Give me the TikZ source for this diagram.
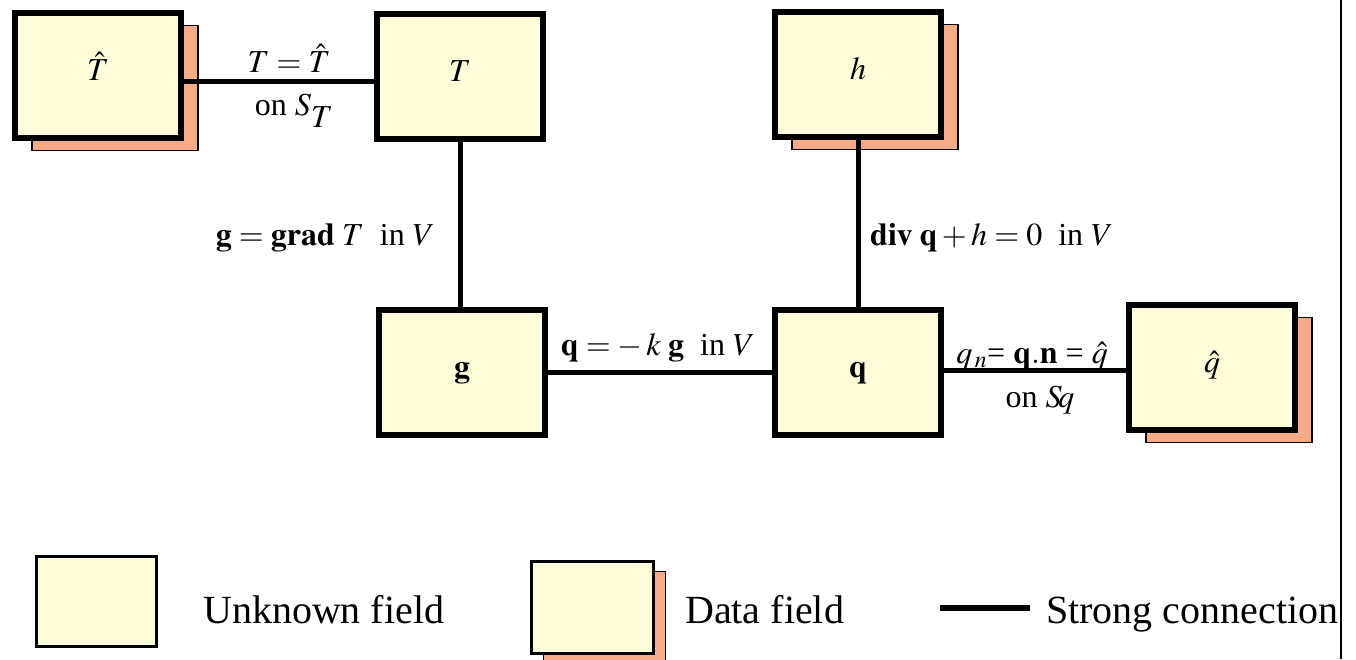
\documentclass[tikz,border=0pt]{standalone}
\usepackage{mathptmx}
\usepackage{fontspec}
\setmainfont{Liberation Serif}
\usetikzlibrary{shadows}

\definecolor{fieldfill}{RGB}{255,252,218}
\definecolor{datashade}{RGB}{246,170,134}

\tikzset{
  field/.style={draw=black, line width=6pt, fill=fieldfill, minimum width=166pt,
    minimum height=125pt, inner sep=0pt, text height=22pt, text depth=12pt,
    font=\fontsize{32}{38}\selectfont},
  shade/.style={general shadow={fill=datashade, draw=black, line width=1.5pt, #1}},
  datafield/.style={field, shade={shadow xshift=17pt, shadow yshift=-13pt}},
  link/.style={line width=5pt},
  lbl/.style={inner sep=0pt, anchor=base, font=\fontsize{32}{38}\selectfont},
  legendtext/.style={inner sep=0pt, anchor=base west, font=\fontsize{40}{48}\selectfont}
}

\begin{document}
\begin{tikzpicture}[x=1pt, y=-1pt]
  \useasboundingbox (0,0) rectangle (1356,659);

  % fields
  \node[datafield] (That) at (98,75) {$\hat{T}$};
  \node[field] (T) at (460,76) {$T$};
  \node[datafield] (h) at (858,74) {$h$};
  \node[field] (g) at (462,372) {$\mathbf{g}$};
  \node[field] (q) at (858,372) {$\mathbf{q}$};
  \node[datafield] (qhat) at (1212,367) {$\hat{q}$};

  % strong connections
  \draw[link] ([yshift=-6pt]That.east) -- ([yshift=-6pt]That.east -| T.west);
  \draw[link] (T.south) -- (T.south |- g.north);
  \draw[link] (h.south) -- (h.south |- q.north);
  \draw[link] (g.east) -- (g.east -| q.west);
  \draw[link] ([yshift=2pt]q.east) -- ([yshift=2pt]q.east -| qhat.west);

  % equations
  \node[lbl] (bcT) at (289,72) {$T = \hat{T}$};
  \node[lbl] (onST) at (294,115) {on $S$\raisebox{-0.4em}{$T$}};
  \node[lbl, anchor=base east] (gradlaw) at (435,245) {$\mathbf{g} = \mathbf{grad}\;T$\ \ in $V$};
  \node[lbl] (fourier) at (658,355) {$\mathbf{q} = -\,k\;\mathbf{g}$\ \ in $V$};
  \node[lbl, anchor=base west] (balance) at (870,245) {$\mathbf{div}\;\mathbf{q} + h = 0$\ \ in $V$};
  \node[lbl] (bcq) at (1032,363) {$q_{\,n}$= $\mathbf{q.n}$ = $\hat{q}$};
  \node[lbl] (onSq) at (1040,407) {on $S\!q$};

  % legend
  \node[field, line width=3pt, minimum width=120pt, minimum height=90pt] (unknownkey) at (96.5,601.5) {};
  \node[legendtext] (unknowntxt) at (203,623) {Unknown field};
  \node[field, line width=3pt, minimum width=122pt, minimum height=92pt,
    shade={shadow xshift=12pt, shadow yshift=-10pt}] (datakey) at (592.5,607.5) {};
  \node[legendtext] (datatxt) at (685,623) {Data field};
  \coordinate (keyA) at (940,608);
  \coordinate (keyB) at (1030,608);
  \draw[link, line width=6pt] (keyA) -- (keyB);
  \node[legendtext] (strongtxt) at (1046,623) {Strong connection};

  % frame edge
  \draw[line width=1.5pt] (1341,0) -- (1341,659);
\end{tikzpicture}
\end{document}
